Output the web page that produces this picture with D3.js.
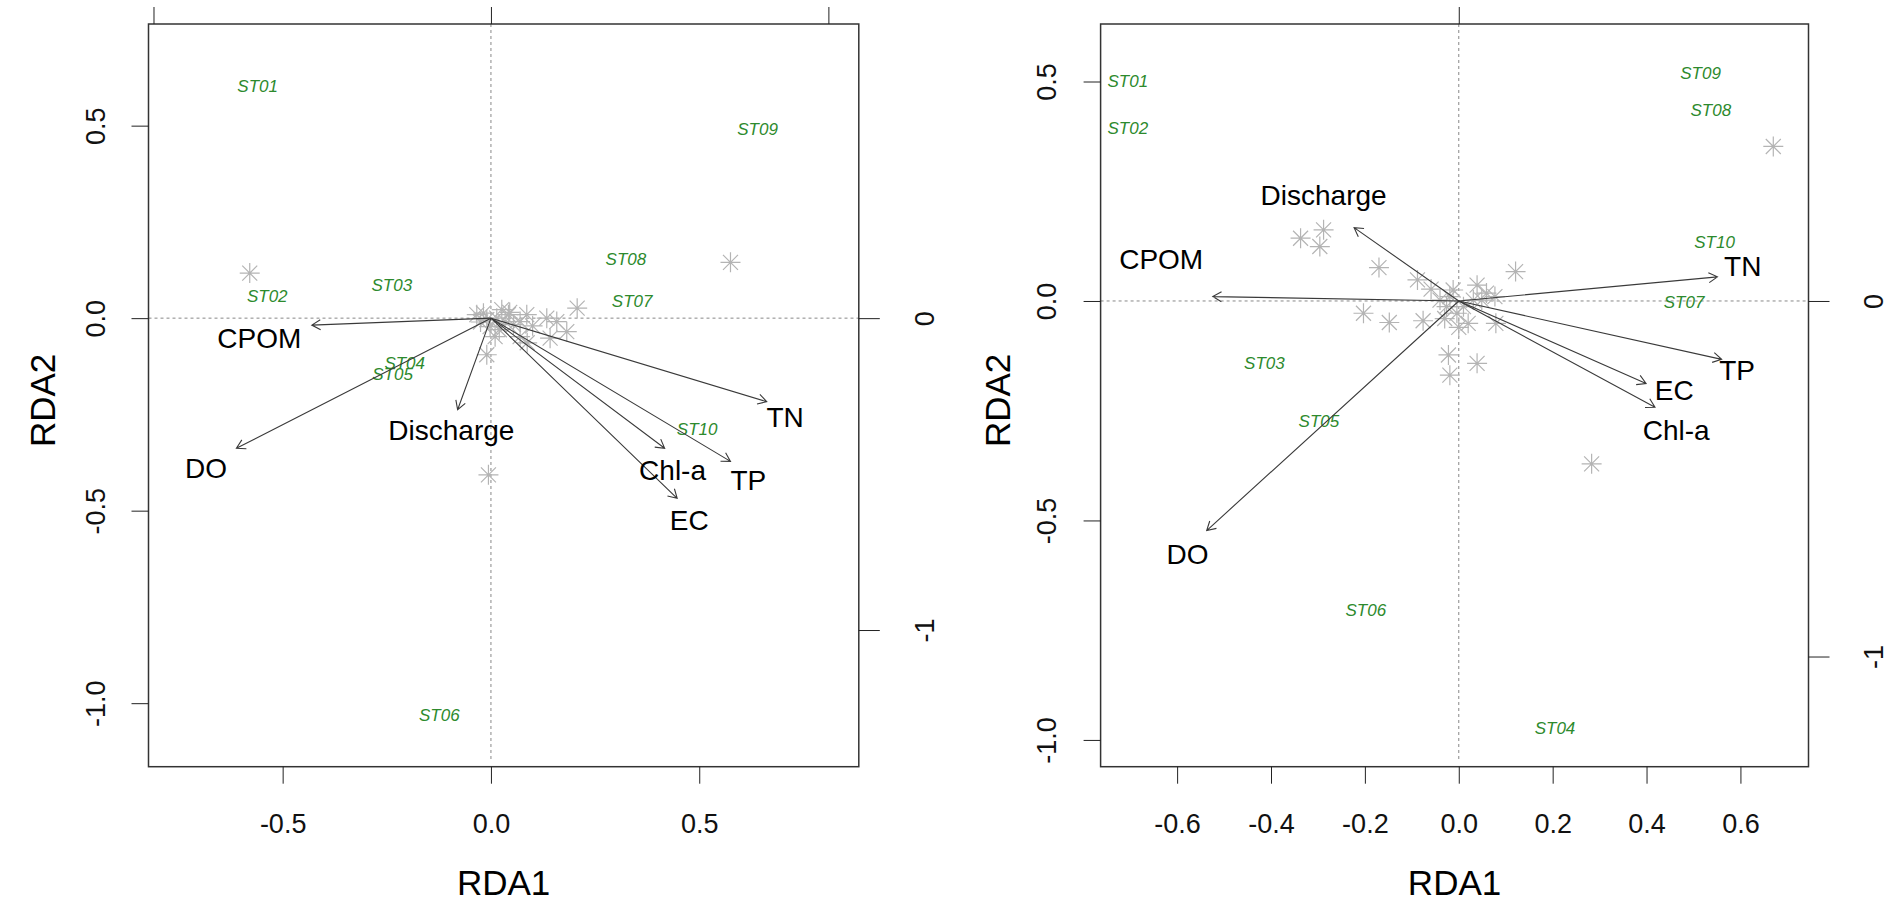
<!DOCTYPE html>
<html>
<head>
<meta charset="utf-8">
<script src="https://cdn.jsdelivr.net/npm/d3@7"></script>
<style>
  body { margin: 0; background: #fff; }
  svg { font-family: "Liberation Sans", Arial, sans-serif; }
</style>
</head>
<body>
<svg id="drawing_region" width="1894" height="903"></svg>
<script>
// explanatory variables (biplot arrows), same order in both panels
const envNames = ["CPOM", "DO", "Discharge", "TN", "Chl-a", "TP", "EC"];
const siteNames = ["ST01", "ST02", "ST03", "ST04", "ST05", "ST06", "ST07", "ST08", "ST09", "ST10"];

// left panel
const leftArrowX = [-0.430, -0.611, -0.080, 0.662, 0.417, 0.575, 0.447];
const leftArrowY = [-0.018, -0.338, -0.238, -0.217, -0.338, -0.372, -0.468];
const leftEnvLabelX = [-0.556, -0.684, -0.095, 0.706, 0.436, 0.618, 0.476];
const leftEnvLabelY = [-0.052, -0.390, -0.290, -0.256, -0.394, -0.420, -0.524];
const leftSiteX = [-0.560, -0.537, -0.238, -0.207, -0.236, -0.124, 0.339, 0.324, 0.640, 0.495];
const leftSiteY = [0.603, 0.058, 0.085, -0.117, -0.145, -1.030, 0.045, 0.154, 0.491, -0.288];
const leftSpX = [-0.579, 0.575, 0.207, -0.006, -0.010, -0.018, 0.026, 0.042, 0.086, 0.134, 0.158, 0.182, 0.142,
                 0.070, -0.002, 0.010, 0.054, -0.034, 0.014, 0.034, 0.070, -0.010, 0.045, 0.100, 0.020, -0.025, 0.087];
const leftSpY = [0.117, 0.145, 0.026, -0.407, -0.095, 0.013, 0.022, 0.009, 0.009, 0.000, -0.009, -0.035, -0.052,
                 -0.048, -0.022, -0.048, -0.017, 0.009, 0.000, -0.009, -0.009, -0.004, 0.015, -0.020, -0.030, -0.010, -0.064];
const leftXTicks = [-0.5, 0.0, 0.5];
const leftYTicks = [-1.0, -0.5, 0.0, 0.5];

// right panel
const rightArrowX = [-0.524, -0.537, -0.223, 0.551, 0.418, 0.560, 0.399];
const rightArrowY = [0.010, -0.523, 0.167, 0.055, -0.242, -0.133, -0.188];
const rightEnvLabelX = [-0.634, -0.578, -0.288, 0.605, 0.463, 0.593, 0.459];
const rightEnvLabelY = [0.095, -0.577, 0.242, 0.080, -0.294, -0.157, -0.203];
const rightSiteX = [-0.705, -0.705, -0.414, 0.205, -0.298, -0.198, 0.480, 0.537, 0.515, 0.545];
const rightSiteY = [0.500, 0.394, -0.141, -0.972, -0.273, -0.704, -0.002, 0.434, 0.519, 0.134];
const rightSpX = [0.670, 0.283, -0.337, -0.288, -0.296, -0.170, -0.088, -0.059, -0.203, -0.148, -0.076, -0.022,
                  -0.019, 0.039, 0.121, 0.039, 0.077, 0.079, 0.020, -0.019, -0.026, -0.004, 0.049, 0.059, 0.010,
                  0.031, -0.012, -0.040, 0.000, -0.030];
const rightSpY = [0.352, -0.371, 0.143, 0.162, 0.124, 0.076, 0.048, 0.027, -0.028, -0.049, -0.045, -0.123,
                  -0.169, -0.142, 0.067, 0.036, 0.010, -0.051, -0.051, 0.010, -0.013, -0.028, 0.002, 0.018, -0.013,
                  0.002, 0.025, 0.002, -0.060, -0.040];
const rightXTicks = [-0.6, -0.4, -0.2, 0.0, 0.2, 0.4, 0.6];
const rightYTicks = [-1.0, -0.5, 0.0, 0.5];

// secondary (biplot) axes
const secTicks = [-1, 0, 1];
const secMult = 0.81;

class RdaPlot {
    constructor( config, data ) {
        this.config = config;
        this.data = data;
        this.init();
    }

    init() {
        let self = this;
        const c = self.config;
        self.svg = d3.select( c.parent );
        self.chart = self.svg.append('g');

        self.xscale = d3.scaleLinear().domain(c.xdomain).range([c.left, c.right]);
        self.yscale = d3.scaleLinear().domain(c.ydomain).range([c.bottom, c.top]);
        // secondary axes: one unit = secMult in primary units
        self.xscale2 = d3.scaleLinear().domain(c.xdomain.map(v => v / secMult)).range([c.left, c.right]);
        self.yscale2 = d3.scaleLinear().domain(c.ydomain.map(v => v / secMult)).range([c.bottom, c.top]);
    }

    render() {
        let self = this;
        const c = self.config, d = self.data;
        const xs = self.xscale, ys = self.yscale;
        const fmt = v => v.toFixed(1);

        // zero lines
        self.chart.append('line')
            .attr('x1', xs(0)).attr('x2', xs(0))
            .attr('y1', c.top).attr('y2', c.bottom - 6)
            .attr('stroke', '#888').attr('stroke-dasharray', '3,3');
        self.chart.append('line')
            .attr('x1', c.left).attr('x2', c.right)
            .attr('y1', ys(0)).attr('y2', ys(0))
            .attr('stroke', '#888').attr('stroke-dasharray', '3,3');

        // species as asterisks
        const r = 10, q = 7.5;
        self.chart.append('g').selectAll('path')
            .data(d.spX.map((x, i) => [x, d.spY[i]]))
            .join('path')
            .attr('d', p => {
                const x = xs(p[0]), y = ys(p[1]);
                return `M${x - r},${y}L${x + r},${y}M${x},${y - r}L${x},${y + r}` +
                       `M${x - q},${y - q}L${x + q},${y + q}M${x - q},${y + q}L${x + q},${y - q}`;
            })
            .attr('fill', 'none')
            .attr('stroke', '#b4b4b4')
            .attr('stroke-width', 1.2);

        // sites
        self.chart.append('g').selectAll('text')
            .data(siteNames)
            .join('text')
            .attr('x', (s, i) => xs(d.siteX[i]))
            .attr('y', (s, i) => ys(d.siteY[i]))
            .attr('dy', '0.35em')
            .attr('text-anchor', 'middle')
            .attr('font-size', 17)
            .attr('font-style', 'italic')
            .attr('fill', '#2d8a2d')
            .text(s => s);

        // biplot arrows
        const hl = 10, ha = Math.PI / 6;
        self.chart.append('g').selectAll('path')
            .data(envNames)
            .join('path')
            .attr('d', (n, i) => {
                const x0 = xs(0), y0 = ys(0);
                const x1 = xs(d.arrowX[i]), y1 = ys(d.arrowY[i]);
                const a = Math.atan2(y1 - y0, x1 - x0);
                return `M${x0},${y0}L${x1},${y1}` +
                       `M${x1 - hl * Math.cos(a - ha)},${y1 - hl * Math.sin(a - ha)}L${x1},${y1}` +
                       `L${x1 - hl * Math.cos(a + ha)},${y1 - hl * Math.sin(a + ha)}`;
            })
            .attr('fill', 'none')
            .attr('stroke', '#3a3a3a')
            .attr('stroke-width', 1.1);

        self.chart.append('g').selectAll('text')
            .data(envNames)
            .join('text')
            .attr('x', (n, i) => xs(d.labelX[i]))
            .attr('y', (n, i) => ys(d.labelY[i]))
            .attr('dy', '0.35em')
            .attr('text-anchor', 'middle')
            .attr('font-size', 28)
            .attr('fill', '#000')
            .text(n => n);

        // box
        self.chart.append('rect')
            .attr('x', c.left).attr('y', c.top)
            .attr('width', c.right - c.left).attr('height', c.bottom - c.top)
            .attr('fill', 'none').attr('stroke', '#333').attr('stroke-width', 1.5);

        // axes
        const xaxis = d3.axisBottom(xs).tickValues(c.xticks).tickFormat(fmt)
            .tickSize(17).tickSizeOuter(0).tickPadding(30);
        const yaxis = d3.axisLeft(ys).tickValues(c.yticks).tickFormat(fmt)
            .tickSize(17).tickSizeOuter(0);
        const topaxis = d3.axisTop(self.xscale2)
            .tickValues(secTicks.filter(v => v * secMult >= c.xdomain[0] && v * secMult <= c.xdomain[1]))
            .tickFormat('').tickSize(17).tickSizeOuter(0);
        const rightaxis = d3.axisRight(self.yscale2)
            .tickValues(secTicks.filter(v => v * secMult >= c.ydomain[0] && v * secMult <= c.ydomain[1]))
            .tickFormat(d3.format('d')).tickSize(21).tickSizeOuter(0);

        const styleAxis = g => {
            g.select('.domain').remove();
            g.selectAll('line').attr('stroke', '#222');
            g.selectAll('text').attr('font-size', 27).attr('fill', '#111')
                .attr('font-family', '"Liberation Sans", Arial, sans-serif');
        };

        self.chart.append('g')
            .attr('transform', `translate(0, ${c.bottom})`)
            .call(xaxis).call(styleAxis)
            .selectAll('text').text(v => fmt(v));

        // rotated tick labels (tick groups already carry the y offset)
        self.chart.append('g')
            .attr('transform', `translate(${c.left}, 0)`)
            .call(yaxis).call(styleAxis)
            .selectAll('text')
            .attr('x', null).attr('dy', '0.35em').attr('text-anchor', 'middle')
            .attr('transform', `translate(${-c.ylabOffset}, 0) rotate(-90)`)
            .text(v => fmt(v));

        self.chart.append('g')
            .attr('transform', `translate(0, ${c.top})`)
            .call(topaxis).call(styleAxis);

        self.chart.append('g')
            .attr('transform', `translate(${c.right}, 0)`)
            .call(rightaxis).call(styleAxis)
            .selectAll('text')
            .attr('x', null).attr('dy', '0.35em').attr('text-anchor', 'middle')
            .attr('transform', `translate(${c.rlabOffset}, 0) rotate(-90)`)
            .text(v => String(v));

        // axis titles
        self.chart.append('text')
            .attr('x', (c.left + c.right) / 2).attr('y', c.bottom + 116)
            .attr('dy', '0.35em').attr('text-anchor', 'middle')
            .attr('font-size', 35).text('RDA1');
        self.chart.append('text')
            .attr('transform', `translate(${c.left - c.ytitleOffset}, ${(c.top + c.bottom) / 2 + 5}) rotate(-90)`)
            .attr('dy', '0.35em').attr('text-anchor', 'middle')
            .attr('font-size', 35).text('RDA2');
    }
}

const leftPlot = new RdaPlot({
    parent: '#drawing_region',
    left: 148.5, right: 858.8, top: 24, bottom: 766.7,
    xdomain: [-0.822, 0.883], ydomain: [-1.165, 0.764],
    xticks: leftXTicks, yticks: leftYTicks,
    ylabOffset: 53, rlabOffset: 66, ytitleOffset: 106
}, {
    arrowX: leftArrowX, arrowY: leftArrowY,
    labelX: leftEnvLabelX, labelY: leftEnvLabelY,
    siteX: leftSiteX, siteY: leftSiteY,
    spX: leftSpX, spY: leftSpY
});
leftPlot.render();

const rightPlot = new RdaPlot({
    parent: '#drawing_region',
    left: 1100.6, right: 1808.5, top: 24, bottom: 766.7,
    xdomain: [-0.763, 0.745], ydomain: [-1.061, 0.631],
    xticks: rightXTicks, yticks: rightYTicks,
    ylabOffset: 54, rlabOffset: 65, ytitleOffset: 103
}, {
    arrowX: rightArrowX, arrowY: rightArrowY,
    labelX: rightEnvLabelX, labelY: rightEnvLabelY,
    siteX: rightSiteX, siteY: rightSiteY,
    spX: rightSpX, spY: rightSpY
});
rightPlot.render();
</script>
</body>
</html>
